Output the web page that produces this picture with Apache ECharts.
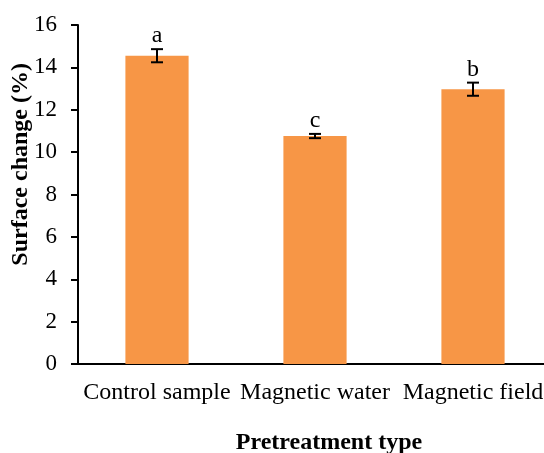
<!DOCTYPE html>
<html>
<head>
<meta charset="utf-8">
<script src="https://cdn.jsdelivr.net/npm/echarts@6/dist/echarts.min.js"></script>
<style>html,body{margin:0;padding:0;background:#fff}#c{width:544px;height:453px}</style>
</head>
<body>
<div id="c"></div>
<script>
const categories = ['Control sample', 'Magnetic water', 'Magnetic field'];
const values = [14.55, 10.76, 12.97];
const errors = [0.31, 0.1, 0.31];
const letters = ['a', 'c', 'b'];
const yTicks = [0, 2, 4, 6, 8, 10, 12, 14, 16];

const font = '"Liberation Serif", "Times New Roman", serif';
const chart = echarts.init(document.getElementById('c'), null, {renderer: 'canvas'});
chart.setOption({
  animation: false,
  backgroundColor: '#fff',
  title: {
    text: 'Pretreatment type',
    left: 324, top: 426, textAlign: 'center',
    textStyle: {fontFamily: font, fontSize: 24, fontWeight: 'bold', color: '#000'}
  },
  graphic: [{
    type: 'text', left: 9, top: 63, rotation: Math.PI / 2,
    style: {text: 'Surface change (%)', font: 'bold 24px ' + font, fill: '#000'}
  }],
  grid: {left: 78, top: 25, right: -8, bottom: 89, outerBoundsMode: 'none', containLabel: false},
  xAxis: {
    type: 'category',
    data: categories,
    axisLine: {lineStyle: {color: '#000', width: 2}},
    axisTick: {show: false},
    axisLabel: {color: '#000', fontFamily: font, fontSize: 24, margin: 17, interval: 0}
  },
  yAxis: {
    type: 'value',
    min: yTicks[0], max: yTicks[yTicks.length - 1], interval: 2,
    axisLine: {show: true, lineStyle: {color: '#000', width: 2}},
    axisTick: {show: true, length: 7, lineStyle: {color: '#000', width: 2}},
    axisLabel: {color: '#000', fontFamily: font, fontSize: 23, margin: 21},
    splitLine: {show: false}
  },
  series: [
    {
      type: 'bar',
      data: values,
      barWidth: '40%',
      itemStyle: {color: '#F79646'}
    },
    {
      type: 'custom',
      data: values.map((v, i) => [i, v, errors[i]]),
      renderItem: function (params, api) {
        const x = api.value(0), v = api.value(1), e = api.value(2);
        const top = api.coord([x, v + e]);
        const bot = api.coord([x, v - e]);
        const hw = 6;
        const st = {stroke: '#000', lineWidth: 2};
        return {
          type: 'group',
          children: [
            {type: 'line', shape: {x1: top[0], y1: top[1], x2: bot[0], y2: bot[1]}, style: st},
            {type: 'line', shape: {x1: top[0] - hw, y1: top[1], x2: top[0] + hw, y2: top[1]}, style: st},
            {type: 'line', shape: {x1: bot[0] - hw, y1: bot[1], x2: bot[0] + hw, y2: bot[1]}, style: st},
            {type: 'text', style: {text: letters[params.dataIndex], x: top[0], y: top[1] - 1,
              textAlign: 'center', textVerticalAlign: 'bottom', fill: '#000',
              font: '24px ' + font}}
          ]
        };
      },
      z: 5
    }
  ]
});
</script>
</body>
</html>
